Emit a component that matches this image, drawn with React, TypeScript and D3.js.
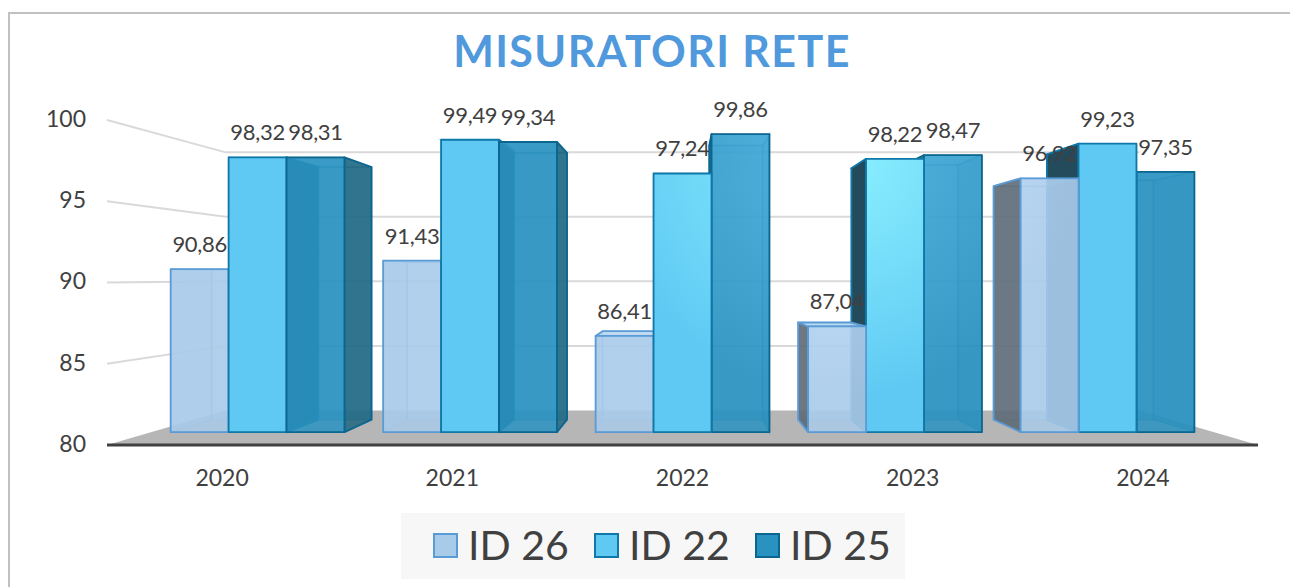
import React from 'react'
import * as d3 from 'd3'

const years = ['2020', '2021', '2022', '2023', '2024']
const seriesNames = ['ID 26', 'ID 22', 'ID 25']
const id26 = [90.86, 91.43, 86.41, 87.04, 96.92]
const id22 = [98.32, 99.49, 97.24, 98.22, 99.23]
const id25 = [98.31, 99.34, 99.86, 98.47, 97.35]
const yTicks = [80, 85, 90, 95, 100]

const W = 1290
const H = 587

// perspective: vanishing point and depth planes (1 = front edge of the floor)
const vx = 683
const vy = 277
const sFront = 0.923
const sBack = 0.923 * 0.92
const sWall = 0.794

const styles = [
  { fill: '#A9CBEA', light: '#C4E3FF', stroke: '#5B9BD5', side: '#56626C', inner: '#9CC0E2', top: '#BBD7F0', op: 0.82 },
  { fill: '#5FC9F3', light: '#8BF0FF', stroke: '#0E78A8', side: '#234B5C', inner: '#4FB8E2', top: '#7ED8F7', op: 1 },
  { fill: '#2A92C0', light: '#4AB2E0', stroke: '#0B6690', side: '#226680', inner: '#167AAA', top: '#3FA6D2', op: 0.86 },
]

const fmt = d3.formatLocale({ decimal: ',', thousands: '.', grouping: [3], currency: ['', '€'] }).format('.2f')

export default function App() {
  const values = [id26, id22, id25]

  const x = d3.scaleBand().domain(years).range([107, 1258])
  const xs = d3.scaleBand().domain(seriesNames)
    .range([x.bandwidth() * 0.091, x.bandwidth() * 0.909])
  const y = d3.scaleLinear().domain([80, 100]).range([445, 120])

  const P = (xf, v, s) => [vx + s * (xf - vx), vy + s * (y(v) - vy)]
  const pts = (arr) => arr.map(p => p.join(',')).join(' ')
  const base = y.domain()[0]

  // gridlines on side wall + back wall
  const grid = yTicks.filter(t => t > base).map(t => {
    const a = [107, y(t)]
    const b = P(107, t, sWall)
    const c = P(1258, t, sWall)
    return { t, d: d3.line()([a, b, c]) }
  })

  const floor = [
    P(107, base, 1), P(1258, base, 1), P(1258, base, sWall), P(107, base, sWall)
  ]

  // bars
  const bars = []
  years.forEach((yr, i) => {
    seriesNames.forEach((s, j) => {
      const x0 = x(yr) + xs(s)
      const x1 = x0 + xs.bandwidth()
      bars.push({ yr, s, j, v: values[j][i], x0, x1, c: (x0 + x1) / 2 })
    })
  })
  bars.sort((a, b) => Math.abs(b.c - vx) - Math.abs(a.c - vx))

  const face = (b) => {
    const { x0, x1, v } = b
    return {
      front: [P(x0, base, sFront), P(x1, base, sFront), P(x1, v, sFront), P(x0, v, sFront)],
      back: [P(x0, base, sBack), P(x1, base, sBack), P(x1, v, sBack), P(x0, v, sBack)],
      left: [P(x0, base, sFront), P(x0, v, sFront), P(x0, v, sBack), P(x0, base, sBack)],
      right: [P(x1, base, sFront), P(x1, v, sFront), P(x1, v, sBack), P(x1, base, sBack)],
      top: [P(x0, v, sFront), P(x1, v, sFront), P(x1, v, sBack), P(x0, v, sBack)],
    }
  }

  const horizon = y.invert(vy)

  const renderBar = (b, k) => {
    const st = styles[b.j]
    const f = face(b)
    const hidden = []
    const shown = []
    hidden.push({ p: f.back, fill: st.fill })
    if (b.x1 < vx) { hidden.push({ p: f.left, fill: st.inner }); shown.push({ p: f.right, fill: st.side }) }
    else if (b.x0 > vx) { hidden.push({ p: f.right, fill: st.inner }); shown.push({ p: f.left, fill: st.side }) }
    else { hidden.push({ p: f.left, fill: st.inner }); hidden.push({ p: f.right, fill: st.inner }) }
    if (b.v > horizon) hidden.push({ p: f.top, fill: st.top })
    else shown.push({ p: f.top, fill: st.top })
    shown.push({ p: f.front, fill: `url(#lit${b.j})` })
    return (
      <g key={k}>
        {hidden.map((h, i) => (
          <polygon key={'h' + i} points={pts(h.p)} fill={h.fill} fillOpacity={0.55}
            stroke={st.stroke} strokeOpacity={0.35} strokeWidth={1.5} />
        ))}
        {shown.map((h, i) => (
          <polygon key={'s' + i} points={pts(h.p)} fill={h.fill} fillOpacity={st.op}
            stroke={st.stroke} strokeWidth={1.8} strokeLinejoin="round" />
        ))}
      </g>
    )
  }

  const font = 'Lato, "Open Sans", sans-serif'

  return (
    <svg width={W} height={H} style={{ position: 'absolute', left: 0, top: 0, background: '#fff' }}
      fontFamily={font}>
      <defs>
        {styles.map((st, i) => (
          <radialGradient key={i} id={`lit${i}`} gradientUnits="userSpaceOnUse" cx={840} cy={160} r={430}>
            <stop offset="0" stopColor={st.light} />
            <stop offset="0.55" stopColor={st.fill} />
            <stop offset="1" stopColor={st.fill} />
          </radialGradient>
        ))}
      </defs>
      <rect x={0} y={0} width={W} height={H} fill="#fff" />
      <path d={`M9,${H} L9,13 L${W},13`} fill="none" stroke="#C0C0C0" strokeWidth={2} />

      <text x={652} y={67} textAnchor="middle" fontSize={43} fontWeight={700} letterSpacing={1.4} fill="#5099DC">
        MISURATORI RETE
      </text>

      {grid.map(g => (
        <path key={g.t} d={g.d} fill="none" stroke="#D9D9D9" strokeWidth={2} />
      ))}

      <polygon points={pts(floor)} fill="#B6B6B6" />
      <line x1={107} x2={1258} y1={y(base)} y2={y(base)} stroke="#404040" strokeWidth={3} />

      {yTicks.map(t => (
        <text key={t} x={86} y={y(t) + 1} textAnchor="end" dominantBaseline="middle"
          fontSize={23} fill="#404040">{t}</text>
      ))}

      {years.map(yr => (
        <text key={yr} x={x(yr) + x.bandwidth() / 2} y={y(base) + 41} textAnchor="middle"
          fontSize={23} fill="#404040">{yr}</text>
      ))}

      {bars.map((b, k) => renderBar(b, k))}

      {bars.map((b, k) => {
        const [lx, ly] = P(b.c, b.v, sFront)
        return (
          <text key={'l' + k} x={lx} y={ly - 17} textAnchor="middle" fontSize={22}
            letterSpacing={-0.3} fill="#404040">
            {fmt(b.v)}
          </text>
        )
      })}

      <rect x={401} y={513} width={504} height={66} fill="#F7F7F7" />
      {seriesNames.map((s, i) => (
        <g key={s} transform={`translate(${434 + i * 161},534)`}>
          <rect x={0} y={0} width={23} height={23} fill={styles[i].fill} stroke={styles[i].stroke} strokeWidth={2} />
          <text x={34} y={26} fontSize={41} fill="#404040">{s}</text>
        </g>
      ))}
    </svg>
  )
}
